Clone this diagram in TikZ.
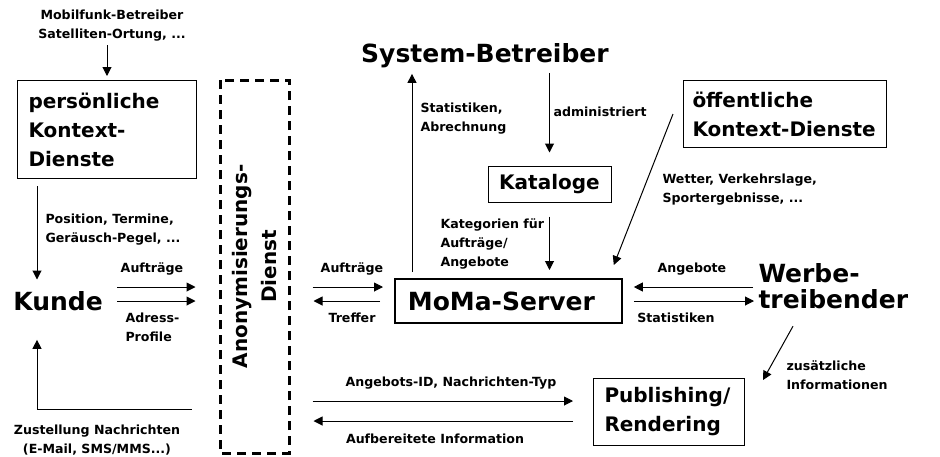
\documentclass[tikz,border=0pt]{standalone}
\usepackage{fontspec}
\setmainfont{DejaVu Sans}
\usetikzlibrary{arrows.meta}

\tikzset{
  info/.style={font=\fontsize{12.6}{19}\selectfont\bfseries, inner sep=1pt, align=center},
  actor/.style={font=\fontsize{25}{26}\selectfont\bfseries, inner sep=2pt},
  svc/.style={draw, line width=1pt, font=\fontsize{20}{29}\selectfont\bfseries, align=left}
}

\begin{document}
\begin{tikzpicture}[x=1pt,y=-1pt,>={Triangle[length=9pt,width=9pt]},line width=1pt]
\useasboundingbox (0,0) rectangle (940,456);

% Rows and columns for the connectors
\coordinate (rowA) at (0,287);
\coordinate (rowB) at (0,301);
\coordinate (rowC) at (0,401);
\coordinate (rowD) at (0,421);
\coordinate (rowE) at (0,409);
\coordinate (colK) at (37,0);
\coordinate (colS) at (412,0);

% Actors
\node[actor, anchor=base] (Kunde) at (58,310) {Kunde};
\node[actor, anchor=base] (Betreiber) at (485,62) {System-Betreiber};
\node[actor, anchor=west, align=left] (Werbe) at (756,286) {Werbe-\\treibender};

% Services
\node[svc, anchor=north west, text width=157pt, inner xsep=11pt, minimum height=98pt] (PersDienste) at (17,80) {persönliche\\Kontext-\\Dienste};
\node[svc, anchor=north west, text width=185pt, inner xsep=9pt, minimum height=67pt] (OeffDienste) at (683,80) {öffentliche\\Kontext-Dienste};
\node[svc, minimum width=123pt, minimum height=36pt, align=center] (Kataloge) at (549.5,184) {Kataloge};
\node[svc, actor, anchor=north west, text width=201pt, inner xsep=13pt, minimum height=44pt, line width=1.8pt] (Server) at (394,278) {MoMa-Server};
\node[svc, anchor=north west, text width=129pt, inner xsep=11pt, minimum height=67pt] (Publishing) at (593,378) {Publishing/\\Rendering};
% rotated: north is the left side, south the right side
\node[svc, align=center, rotate=90, line width=3pt, dash pattern=on 9pt off 6pt, minimum width=373pt, minimum height=69pt, inner sep=0pt] (Anon) at (254.5,266.5) {Anonymisierungs-\\Dienst};

% Labels
\node[info] (lMobil) at (112,26) {Mobilfunk-Betreiber\\Satelliten-Ortung, ...};
\node[info, anchor=west, align=left] (lPosition) at (44,230) {Position, Termine,\\Geräusch-Pegel, ...};
\node[info] (lAuftrK) at (152,269) {Aufträge};
\node[info, anchor=west, align=left] (lAdress) at (124,327) {Adress-\\Profile};
\node[info] (lZustellung) at (97,440) {Zustellung Nachrichten\\(E-Mail, SMS/MMS...)};
\node[info] (lAuftrS) at (352,269) {Aufträge};
\node[info] (lTreffer) at (352,318) {Treffer};
\node[info, anchor=west, align=left] (lStatAbr) at (419,119) {Statistiken,\\Abrechnung};
\node[info, anchor=west] (lAdmin) at (552,112) {administriert};
\node[info, anchor=west, align=left] (lKategorien) at (439,244) {Kategorien für\\Aufträge/\\Angebote};
\node[info, anchor=west, align=left] (lWetter) at (661,190) {Wetter, Verkehrslage,\\Sportergebnisse, ...};
\node[info] (lAngebote) at (692,269) {Angebote};
\node[info] (lStatistiken) at (676,318) {Statistiken};
\node[info, anchor=west, align=left] (lZusatz) at (785,375) {zusätzliche\\Informationen};
\node[info] (lAngebotsID) at (451,383) {Angebots-ID, Nachrichten-Typ};
\node[info] (lAufbereitet) at (435,439) {Aufbereitete Information};

% Context data
\draw[->, shorten <=2pt, shorten >=4pt] (lMobil.south -| PersDienste.north) -- (PersDienste.north);
\draw[->, shorten <=7pt, shorten >=9pt] (PersDienste.south -| colK) -- (Kunde.north -| colK);
\draw[->] ([xshift=-10pt]OeffDienste.west) -- ([xshift=-9pt,yshift=13pt]Server.north east);

% Kunde <-> Anonymisierung <-> Server
\draw[->, shorten <=12pt, shorten >=23pt] (Kunde.east |- rowA) -- (Anon.north |- rowA);
\draw[->, shorten <=12pt, shorten >=23pt] (Kunde.east |- rowB) -- (Anon.north |- rowB);
\draw[->, shorten <=22pt, shorten >=11pt] (Anon.south |- rowA) -- (Server.west |- rowA);
\draw[->, shorten <=14pt, shorten >=23pt] (Server.west |- rowB) -- (Anon.south |- rowB);

% Betreiber and Kataloge
\draw[->, shorten <=6pt, shorten >=4pt] (Server.north -| colS) -- (Betreiber.south -| colS);
\draw[->, shorten <=3pt, shorten >=13pt] (Betreiber.south -| Kataloge.north) -- (Kataloge.north);
\draw[->, shorten <=14pt, shorten >=8pt] (Kataloge.south) -- (Kataloge.south |- Server.north);

% Werbetreibender
\draw[->, shorten <=3pt, shorten >=11pt] (Werbe.west |- rowA) -- (Server.east |- rowA);
\draw[->, shorten <=11pt, shorten >=2pt] (Server.east |- rowB) -- (Werbe.west |- rowB);
\draw[->] ([xshift=37pt,yshift=-15pt]Werbe.south west) -- ([xshift=18pt,yshift=-2pt]Publishing.north east);

% Publishing and delivery
\draw[->, shorten <=22pt, shorten >=20pt] (Anon.south |- rowC) -- (Publishing.west |- rowC);
\draw[->, shorten <=20pt, shorten >=23pt] (Publishing.west |- rowD) -- (Anon.south |- rowD);
\draw[->, shorten <=27pt, shorten >=27pt] (Anon.north |- rowE) -| (Kunde.south -| colK);

\end{tikzpicture}
\end{document}
